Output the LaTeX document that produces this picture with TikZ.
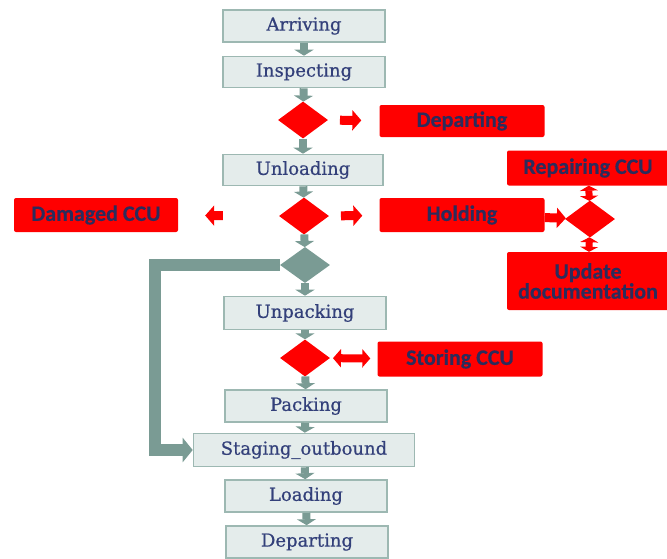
\documentclass[tikz,border=0pt]{standalone}
\usepackage{fontspec}
\setmainfont{DejaVu Serif}
\newfontfamily\stepfont[FakeBold=0.6]{DejaVu Serif}
\newfontfamily\redfont[FakeBold=0.4]{Carlito}
\usetikzlibrary{shapes.geometric,arrows.meta}
\definecolor{boxfill}{HTML}{E4ECEB}
\definecolor{boxline}{HTML}{9DB8B2}
\definecolor{flowgray}{HTML}{7A9B94}
\definecolor{textnavy}{HTML}{33407A}
\definecolor{rednavy}{HTML}{2B2C5C}
\definecolor{alarm}{HTML}{FF0000}
\tikzset{
  stepbox/.style={rectangle, draw=boxline, line width=1.6pt, fill=boxfill,
    text=textnavy, font=\stepfont\fontsize{18}{20}\selectfont, inner sep=0pt},
  redbox/.style={rectangle, fill=alarm, rounded corners=2pt, text=rednavy,
    font=\redfont\bfseries\fontsize{22}{23}\selectfont, inner sep=0pt, align=center},
  reddiam/.style={diamond, fill=alarm, inner sep=0pt, minimum width=50pt, minimum height=37pt},
  graydiam/.style={diamond, fill=flowgray, inner sep=0pt, minimum width=50pt, minimum height=36pt},
  garrow/.style={draw=flowgray, line width=8pt, -{Triangle[width=19pt,length=6pt]}},
  rarrow/.style={draw=alarm, line width=9pt, -{Triangle[width=20pt,length=9pt]}},
  rdouble/.style={draw=alarm, line width=8pt, {Triangle[width=18pt,length=8pt]}-{Triangle[width=18pt,length=8pt]}},
  rlink/.style={draw=alarm, line width=7pt, {Triangle[width=18pt,length=5pt]}-{Triangle[width=18pt,length=5pt]}},
  loopback/.style={draw=flowgray, line width=12pt, line join=miter, -{Triangle[width=24pt,length=10pt]}}
}
\begin{document}
\begin{tikzpicture}[x=1pt,y=-1pt]
\useasboundingbox (0,0) rectangle (667,558);

% main process steps
\node[stepbox, minimum width=162pt, minimum height=32pt] (arr)  at (304,26)  {Arriving};
\node[stepbox, minimum width=162pt, minimum height=31pt] (insp) at (304,72)  {Inspecting};
\node[stepbox, minimum width=160pt, minimum height=31pt] (unl)  at (303,170) {Unloading};
\node[stepbox, minimum width=162pt, minimum height=33pt] (unp)  at (305,313) {Unpacking};
\node[stepbox, minimum width=162pt, minimum height=32pt] (pack) at (306,406) {Packing};
\node[stepbox, minimum width=221pt, minimum height=33pt] (stg)  at (304,450) {Staging\_outbound};
\node[stepbox, minimum width=162pt, minimum height=32pt] (load) at (306,496) {Loading};
\node[stepbox, minimum width=162pt, minimum height=32pt] (dep2) at (307,542) {Departing};

% decisions
\node[reddiam]  (d1) at (303,120) {};
\node[reddiam]  (d2) at (304,216) {};
\node[graydiam] (gd) at (305,265) {};
\node[reddiam]  (d3) at (305,358) {};
\node[reddiam]  (rd) at (590,219) {};

% exception states
\node[redbox, minimum width=165pt, minimum height=32pt] (dep)  at (462,121) {Departing};
\node[redbox, minimum width=164pt, minimum height=34pt] (dam)  at (96,215)  {Damaged CCU};
\node[redbox, minimum width=165pt, minimum height=34pt] (hold) at (462,215) {Holding};
\node[redbox, minimum width=165pt, minimum height=35pt] (stor) at (460,359) {Storing CCU};
\node[redbox, minimum width=162pt, minimum height=35pt] (rep)  at (588,168) {Repairing CCU};
\node[redbox, minimum width=162pt, minimum height=58pt] (upd)  at (588,281) {Update\\[-3pt]documentation};

% main flow
\draw[garrow] (arr)  -- (insp);
\draw[garrow] (insp) -- (d1);
\draw[garrow] (d1)   -- (unl);
\draw[garrow] (unl)  -- (d2);
\draw[garrow] (d2)   -- (gd);
\draw[garrow] (gd)   -- (unp);
\draw[garrow] (unp)  -- (d3);
\draw[garrow] (d3)   -- (pack);
\draw[garrow] (pack) -- (stg);
\draw[garrow] (stg)  -- (load);
\draw[garrow] (load) -- (dep2);

% bypass to outbound staging
\draw[loopback] (gd.west) -- ++(-125,0) |- (stg.west);

% branches to exception states
\draw[rarrow, shorten <=12pt, shorten >=18pt] (d1) -- (dep);
\draw[rarrow, shorten <=56pt, shorten >=27pt] (d2) -- (dam);
\draw[rarrow, shorten <=12pt, shorten >=17pt] (d2) -- (hold);
\draw[rarrow] (hold) -- (rd);
\draw[rdouble, shorten <=3pt, shorten >=7pt] (d3) -- (stor);
\draw[rlink] (rep) -- (rd);
\draw[rlink] (rd) -- (upd);
\end{tikzpicture}
\end{document}
